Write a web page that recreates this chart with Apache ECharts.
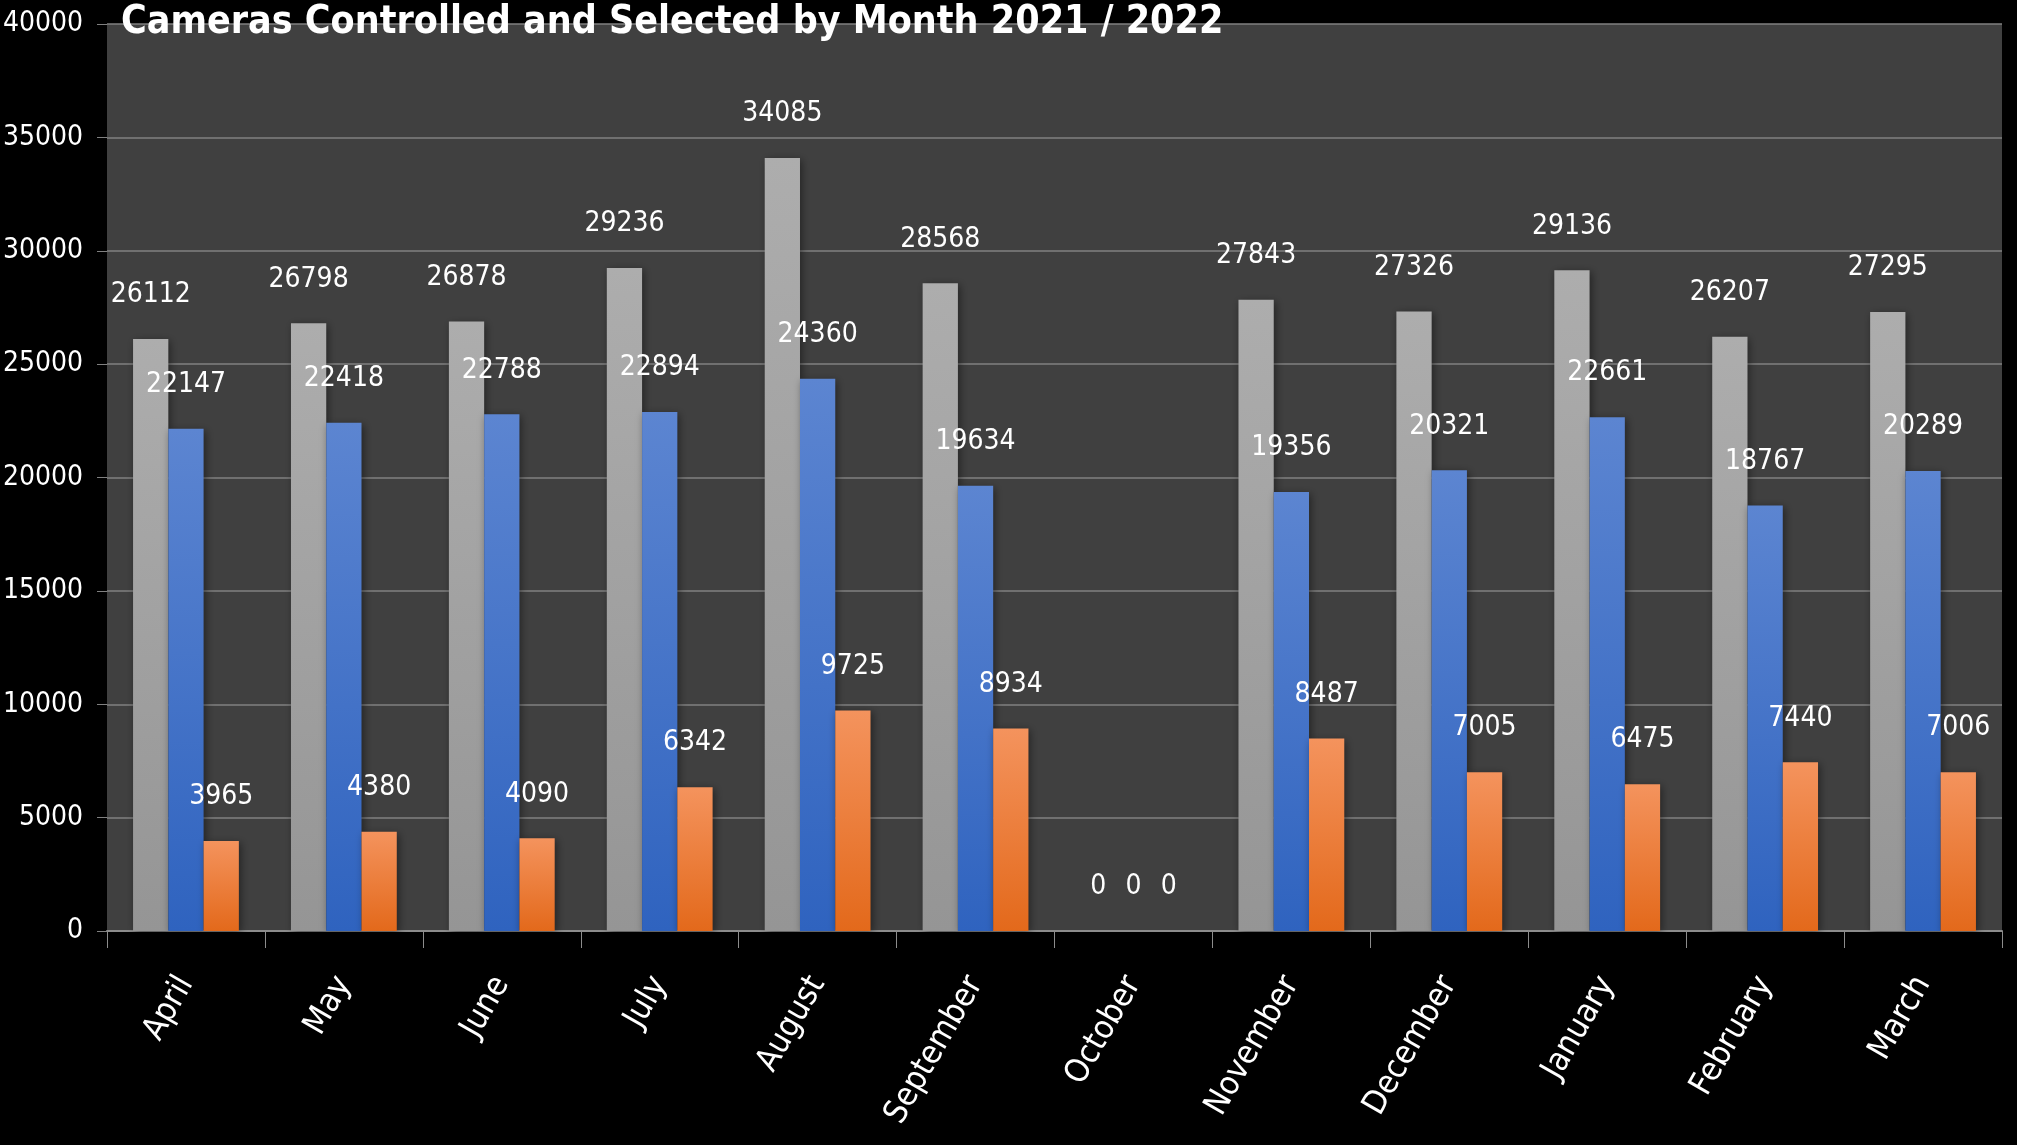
<!DOCTYPE html>
<html>
<head>
<meta charset="utf-8">
<script src="https://cdn.jsdelivr.net/npm/echarts@6/dist/echarts.min.js"></script>
<style>
html,body{margin:0;padding:0;background:#000;}
#chart{width:2017px;height:1145px;}
</style>
</head>
<body>
<div id="chart"></div>
<script>
const titleText = 'Cameras Controlled and Selected by Month 2021 / 2022';
const months = ['April','May','June','July','August','September','October','November','December','January','February','March'];
const seriesNames = ['Cameras', 'Controlled', 'Selected'];
const camerasValues = [26112, 26798, 26878, 29236, 34085, 28568, 0, 27843, 27326, 29136, 26207, 27295];
const controlledValues = [22147, 22418, 22788, 22894, 24360, 19634, 0, 19356, 20321, 22661, 18767, 20289];
const selectedValues = [3965, 4380, 4090, 6342, 9725, 8934, 0, 8487, 7005, 6475, 7440, 7006];

const FONT = '"DejaVu Sans Condensed", "Liberation Sans Narrow", sans-serif';

function grad(top, bottom) {
  return new echarts.graphic.LinearGradient(0, 0, 0, 1, [
    {offset: 0, color: top}, {offset: 1, color: bottom}
  ]);
}
const colors = [grad('#adadad', '#959595'), grad('#5c85d1', '#2f63bf'), grad('#f4935d', '#e3691b')];
const data = [camerasValues, controlledValues, selectedValues];

const chart = echarts.init(document.getElementById('chart'), null, {renderer: 'canvas'});
chart.setOption({
  backgroundColor: '#000000',
  animation: false,
  title: {
    text: titleText,
    left: 116,
    top: -2,
    textStyle: {color: '#ffffff', fontFamily: FONT, fontWeight: 'bold', fontSize: 39}
  },
  grid: {left: 107, right: 15, top: 24, bottom: 214, show: true, backgroundColor: '#404040', borderWidth: 0,
         containLabel: false, outerBoundsMode: 'none'},
  xAxis: {
    type: 'category',
    data: months,
    axisLine: {show: true, lineStyle: {color: '#8c8c8c', width: 2}},
    axisTick: {show: true, length: 17, lineStyle: {color: '#8c8c8c', width: 1}},
    axisLabel: {color: '#ffffff', fontFamily: FONT, fontSize: 33, rotate: 60, margin: 48, interval: 0}
  },
  yAxis: {
    type: 'value',
    min: 0, max: 40000, interval: 5000,
    axisLine: {show: false},
    axisTick: {show: true, length: 10, lineStyle: {color: '#808080'}},
    splitLine: {show: true, lineStyle: {color: '#808080', width: 1.5}},
    axisLabel: {color: '#ffffff', fontFamily: FONT, fontSize: 28, margin: 24, formatter: v => String(v)}
  },
  series: data.map((vals, i) => ({
    name: seriesNames[i],
    type: 'bar',
    data: vals,
    barGap: '0%',
    barCategoryGap: '33%',
    itemStyle: {color: colors[i], shadowColor: 'rgba(0,0,0,0.45)', shadowBlur: 8, shadowOffsetX: 2, shadowOffsetY: 2},
    label: {show: true, position: 'top', distance: 30, color: '#ffffff', fontFamily: FONT, fontSize: 28}
  }))
});
</script>
</body>
</html>
